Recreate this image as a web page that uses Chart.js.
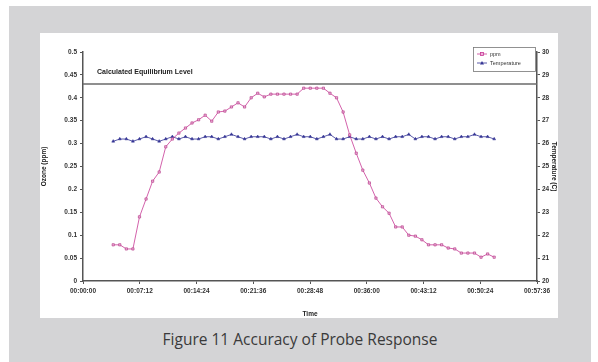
<!DOCTYPE html>
<html>
<head>
<meta charset="utf-8">
<script src="https://cdn.jsdelivr.net/npm/chart.js@4.4.1/dist/chart.umd.min.js"></script>
<style>
  html, body { margin: 0; padding: 0; background: #fff; }
  body { width: 598px; height: 362px; position: relative; overflow: hidden; }
  #frame { position: absolute; left: 9px; top: 6px; width: 582px; height: 356px; background: #d4d4d6; }
  #panel { position: absolute; left: 40px; top: 33px; width: 518px; height: 285px; background: #fff; }
  #caption { position: absolute; left: 9px; width: 582px; top: 328px; text-align: center;
             font-family: "Open Sans", sans-serif; font-size: 15.5px; color: #3a3a3a; }
</style>
</head>
<body>
<div id="frame"></div>
<div id="panel"><canvas id="probeChart" width="518" height="285"></canvas></div>
<div id="caption">Figure 11 Accuracy of Probe Response</div>

<script>
// sample times in seconds from start of run
const sampleTimes = [230, 280, 330, 380, 430, 480, 530, 580, 630, 680, 730, 780, 830, 880, 930,
  980, 1030, 1080, 1130, 1180, 1230, 1280, 1330, 1380, 1430, 1480, 1530, 1580, 1630, 1680,
  1730, 1780, 1830, 1880, 1930, 1980, 2030, 2080, 2130, 2180, 2230, 2280, 2330, 2380, 2430,
  2480, 2530, 2580, 2630, 2680, 2730, 2780, 2830, 2880, 2930, 2980, 3030, 3080, 3130];

const ppmValues = [0.079, 0.079, 0.070, 0.070, 0.140, 0.179, 0.218, 0.238, 0.293, 0.310,
  0.323, 0.334, 0.345, 0.352, 0.362, 0.349, 0.369, 0.371, 0.380, 0.389,
  0.380, 0.400, 0.410, 0.402, 0.408, 0.408, 0.408, 0.408, 0.408, 0.421,
  0.421, 0.421, 0.421, 0.410, 0.400, 0.369, 0.319, 0.279, 0.242, 0.214,
  0.181, 0.162, 0.148, 0.118, 0.118, 0.100, 0.098, 0.090, 0.079, 0.079,
  0.079, 0.072, 0.070, 0.061, 0.061, 0.061, 0.052, 0.059, 0.052];

const tempValues = [26.1, 26.2, 26.2, 26.1, 26.2, 26.3, 26.2, 26.1, 26.2, 26.3,
  26.2, 26.3, 26.2, 26.2, 26.3, 26.3, 26.2, 26.3, 26.4, 26.3,
  26.2, 26.3, 26.3, 26.3, 26.2, 26.3, 26.2, 26.3, 26.4, 26.3,
  26.3, 26.2, 26.3, 26.4, 26.2, 26.2, 26.3, 26.2, 26.2, 26.3,
  26.2, 26.3, 26.2, 26.3, 26.3, 26.4, 26.2, 26.3, 26.3, 26.2,
  26.3, 26.3, 26.2, 26.3, 26.3, 26.4, 26.3, 26.3, 26.2];

const equilibriumLevel = 0.43;
const timeAxisMax = 3456;   // 00:57:36
const timeAxisStep = 432;   // 00:07:12
const ppmTicks = [0, 0.05, 0.1, 0.15, 0.2, 0.25, 0.3, 0.35, 0.4, 0.45, 0.5];
const tempRange = [20, 30];

const axisFont = { family: 'Liberation Sans, Arial, sans-serif', size: 6.5, weight: 'bold' };
const axisColor = '#555';

function fmtTime(sec) {
  const h = Math.floor(sec / 3600), m = Math.floor(sec % 3600 / 60), s = Math.round(sec % 60);
  return [h, m, s].map(v => String(v).padStart(2, '0')).join(':');
}

const overlayPlugin = {
  id: 'overlay',
  afterDraw(chart) {
    const c = chart.ctx, a = chart.chartArea;
    const ys = chart.scales.y;
    c.save();
    // equilibrium label
    c.font = 'bold 7px Liberation Sans, Arial, sans-serif';
    c.fillStyle = '#222';
    c.textBaseline = 'middle';
    c.fillText('Calculated Equilibrium Level', a.left + 14, ys.getPixelForValue(equilibriumLevel) - 12);

    // legend box
    const bw = 62, bh = 24, bx = a.right - bw - 2, by = a.top - 5;
    c.fillStyle = '#fff';
    c.fillRect(bx, by, bw, bh);
    c.strokeStyle = '#777';
    c.lineWidth = 0.8;
    c.strokeRect(bx + 0.5, by + 0.5, bw, bh);
    const items = [
      { label: 'ppm', color: '#c83a96', fill: '#eeb0da', shape: 'rect' },
      { label: 'Temperature', color: '#343494', fill: '#343494', shape: 'triangle' }
    ];
    c.font = '5.5px Liberation Sans, Arial, sans-serif';
    items.forEach((it, i) => {
      const ly = by + 7 + i * 9;
      c.strokeStyle = it.color;
      c.lineWidth = 0.8;
      c.beginPath(); c.moveTo(bx + 4, ly); c.lineTo(bx + 14, ly); c.stroke();
      c.fillStyle = it.fill;
      if (it.shape === 'rect') {
        c.fillRect(bx + 7.5, ly - 1.5, 3, 3);
        c.strokeRect(bx + 7.5, ly - 1.5, 3, 3);
      } else {
        c.beginPath(); c.moveTo(bx + 9, ly - 2); c.lineTo(bx + 11, ly + 1.5); c.lineTo(bx + 7, ly + 1.5); c.closePath(); c.fill();
      }
      c.fillStyle = '#333';
      c.fillText(it.label, bx + 17, ly);
    });
    c.restore();
  }
};

const ctx = document.getElementById('probeChart').getContext('2d');

window.probeChart = new Chart(ctx, {
  type: 'line',
  data: {
    datasets: [
      {
        label: 'Equilibrium',
        data: [{ x: 0, y: equilibriumLevel }, { x: timeAxisMax, y: equilibriumLevel }],
        borderColor: '#6a6a6a',
        borderWidth: 1.5,
        pointRadius: 0,
        yAxisID: 'y'
      },
      {
        label: 'ppm',
        data: sampleTimes.map((t, i) => ({ x: t, y: ppmValues[i] })),
        borderColor: '#c83a96',
        borderWidth: 0.8,
        pointStyle: 'rect',
        pointRadius: 1.6,
        pointBackgroundColor: '#eeb0da',
        pointBorderColor: '#b0307f',
        pointBorderWidth: 0.6,
        yAxisID: 'y'
      },
      {
        label: 'Temperature',
        data: sampleTimes.map((t, i) => ({ x: t, y: tempValues[i] })),
        borderColor: '#343494',
        borderWidth: 0.8,
        pointStyle: 'triangle',
        pointRadius: 1.7,
        pointBackgroundColor: '#343494',
        pointBorderColor: '#343494',
        pointBorderWidth: 0.5,
        yAxisID: 'y2'
      }
    ]
  },
  options: {
    responsive: false,
    animation: false,
    layout: { padding: { top: 19, left: 0, right: 0, bottom: 0 } },
    plugins: {
      legend: { display: false },
      tooltip: { enabled: false }
    },
    scales: {
      x: {
        type: 'linear',
        min: 0,
        max: timeAxisMax,
        afterFit: s => { s.height = 37; },
        afterBuildTicks: s => {
          const t = [];
          for (let v = 0; v <= timeAxisMax; v += timeAxisStep) t.push({ value: v });
          s.ticks = t;
        },
        ticks: { font: axisFont, color: '#333', padding: 3, maxRotation: 0, callback: v => fmtTime(v) },
        grid: { drawOnChartArea: false, tickLength: 3, color: axisColor },
        border: { color: axisColor, width: 1.5 },
        title: { display: true, text: 'Time', font: { ...axisFont, size: 6.5 }, color: '#222', padding: { top: 0, bottom: 0 } }
      },
      y: {
        position: 'left',
        min: 0,
        max: 0.5,
        afterFit: s => { s.width = 43; },
        afterBuildTicks: s => { s.ticks = ppmTicks.map(v => ({ value: v })); },
        ticks: { font: axisFont, color: '#333', padding: 3, callback: v => String(v) },
        grid: { drawOnChartArea: false, tickLength: 3, color: axisColor },
        border: { color: axisColor, width: 1.5 },
        title: { display: true, text: 'Ozone (ppm)', font: axisFont, color: '#222', padding: 0 }
      },
      y2: {
        position: 'right',
        min: tempRange[0],
        max: tempRange[1],
        afterFit: s => { s.width = 21; },
        ticks: { font: axisFont, color: '#333', padding: 2, stepSize: 1 },
        grid: { drawOnChartArea: false, tickLength: 3, color: axisColor },
        border: { color: axisColor, width: 1.5 },
        title: { display: true, text: 'Temperature (C)', font: axisFont, color: '#222', padding: 0 }
      }
    }
  },
  plugins: [overlayPlugin]
});
</script>
</body>
</html>
